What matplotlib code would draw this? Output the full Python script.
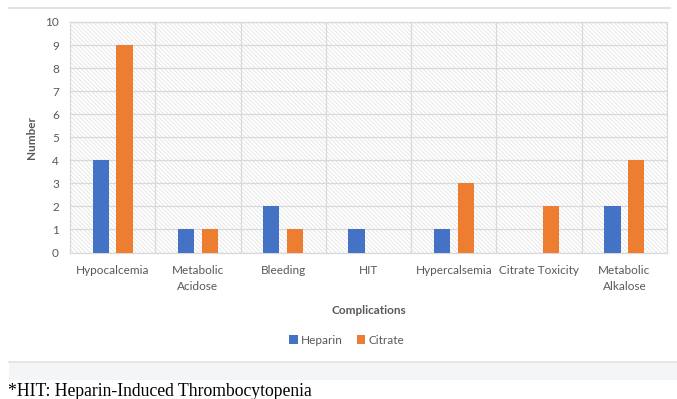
import matplotlib
matplotlib.use('Agg')
import matplotlib.pyplot as plt
from matplotlib.patches import Rectangle
from matplotlib.lines import Line2D
import numpy as np

# 数据
categories = ['Hypocalcemia', 'Metabolic\nAcidose', 'Bleeding', 'HIT',
              'Hypercalsemia', 'Citrate Toxicity', 'Metabolic\nAlkalose']
heparin = [4, 1, 2, 1, 1, 0, 2]
citrate = [9, 1, 1, 0, 3, 2, 4]
series_names = ['Heparin', 'Citrate']
footnote = '*HIT: Heparin-Induced Thrombocytopenia'

blue = '#4472c4'
orange = '#ed7d31'
grid_c = '#d9d9d9'
text_c = '#595959'

plt.rcParams['font.family'] = ['Lato', 'DejaVu Sans']
plt.rcParams['hatch.color'] = '#dedede'
plt.rcParams['hatch.linewidth'] = 0.5

fig = plt.figure(figsize=(6.77, 3.99), dpi=100)
ax = fig.add_axes([70 / 677, 1 - 252.5 / 399, 597 / 677, 230.5 / 399])

# 斜线背景
ax.add_patch(Rectangle((0, 0), 1, 1, transform=ax.transAxes, facecolor='white',
                       edgecolor='#dedede', hatch='\\' * 8, lw=0, zorder=0))

x = np.arange(len(categories))
w = 0.19
off = 0.14
ax.bar(x - off, heparin, w, color=blue, label=series_names[0], zorder=3)
ax.bar(x + off, citrate, w, color=orange, label=series_names[1], zorder=3)

ax.set_xlim(-0.5, len(categories) - 0.5)
ax.set_ylim(0, 10)
ax.set_yticks(range(0, 11))
ax.set_xticks(x)
ax.set_xticklabels(categories, fontsize=8.5, color=text_c, linespacing=1.5)
ax.set_xticks(np.arange(0.5, len(categories) - 0.5, 1), minor=True)
ax.tick_params(axis='both', which='both', length=0)
ax.tick_params(axis='y', labelsize=8.5, labelcolor=text_c, pad=8)
ax.tick_params(axis='x', pad=9)

ax.grid(axis='y', color=grid_c, lw=0.9, zorder=1)
ax.grid(axis='x', which='minor', color=grid_c, lw=0.9, zorder=1)
ax.grid(axis='x', which='major', visible=False)
for s in ax.spines.values():
    s.set_color(grid_c)
    s.set_linewidth(0.9)

ax.set_ylabel('Number', fontsize=8.5, fontweight='bold', color=text_c, labelpad=6)
ax.set_xlabel('Complications', fontsize=8.5, fontweight='bold', color=text_c, labelpad=10)

fig.legend(loc='center', bbox_to_anchor=(347 / 677, 1 - 340 / 399), ncol=2,
           frameon=False, fontsize=8.5, handlelength=0.7, handleheight=0.7,
           handletextpad=0.3, columnspacing=1.2, labelcolor=text_c)

# 上下分隔线和灰色条
fig.add_artist(Line2D([9 / 677, 670 / 677], [1 - 7.5 / 399, 1 - 7.5 / 399],
                      color='#dcdcdc', lw=1.2))
fig.add_artist(Rectangle((9 / 677, 1 - 380 / 399), 668 / 677, 18 / 399,
                         transform=fig.transFigure, facecolor='#f4f5f7', lw=0))
fig.add_artist(Line2D([9 / 677, 1], [1 - 362 / 399, 1 - 362 / 399],
                      color='#e2e2e2', lw=1.2))

fig.text(8 / 677, 1 - 391 / 399, footnote, family=['Liberation Serif'],
         fontsize=12.7, va='center', ha='left', color='black')

fig.savefig('out.png', dpi=100)
